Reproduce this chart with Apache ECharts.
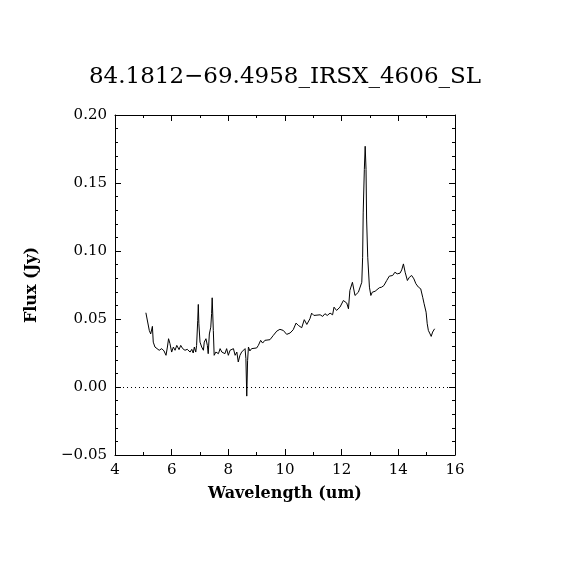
<!DOCTYPE html>
<html>
<head>
<meta charset="utf-8">
<script src="https://cdn.jsdelivr.net/npm/echarts@6/dist/echarts.min.js"></script>
<style>html,body{margin:0;padding:0;background:#fff;}#c{width:570px;height:570px;}</style>
</head>
<body>
<div id="c"></div>
<script>
const titleText = "84.1812\u221269.4958_IRSX_4606_SL";
const xName = "Wavelength (um)";
const yName = "Flux (Jy)";
const wavelength = [
5.09,5.21,5.26,5.32,5.35,5.41,5.47,5.56,5.65,5.73,5.80,5.85,5.89,5.94,6.00,6.06,6.12,6.18,6.26,6.32,
6.39,6.47,6.55,6.65,6.71,6.76,6.80,6.85,6.88,6.92,6.94,6.96,7.00,7.06,7.12,7.15,7.21,7.26,7.29,7.33,
7.38,7.41,7.43,7.47,7.50,7.56,7.65,7.71,7.77,7.82,7.88,7.94,8.00,8.06,8.12,8.18,8.24,8.30,8.35,8.41,
8.47,8.53,8.59,8.62,8.65,8.68,8.71,8.76,8.82,8.88,9.00,9.06,9.14,9.21,9.29,9.47,9.59,9.71,9.82,9.94,
10.06,10.18,10.29,10.39,10.47,10.59,10.68,10.77,10.88,10.94,11.02,11.09,11.24,11.33,11.41,11.49,11.59,11.68,11.73,11.82,
11.94,12.06,12.12,12.18,12.24,12.29,12.38,12.47,12.53,12.59,12.65,12.71,12.74,12.76,12.80,12.83,12.86,12.88,12.92,12.98,
13.03,13.08,13.18,13.24,13.33,13.41,13.49,13.59,13.68,13.80,13.88,13.96,14.06,14.12,14.18,14.24,14.32,14.39,14.47,14.55,
14.62,14.71,14.79,14.86,14.91,14.98,15.02,15.06,15.12,15.16,15.21,15.28
];
const flux = [
0.0546,0.0416,0.039,0.0446,0.033,0.0294,0.0306,0.027,0.0282,0.0265,0.0233,0.0294,0.0355,0.0319,0.0257,0.0294,0.027,0.0306,0.0275,0.0306,
0.0282,0.027,0.0277,0.0257,0.0277,0.025,0.0294,0.0257,0.0306,0.049,0.0607,0.0465,0.033,0.0294,0.027,0.033,0.0355,0.0306,0.0245,0.039,
0.044,0.054,0.0656,0.0416,0.0233,0.0257,0.0245,0.0282,0.0257,0.027,0.0245,0.0282,0.0233,0.027,0.0257,0.0282,0.0233,0.0257,0.0184,0.0233,
0.0257,0.027,0.0282,0.0209,-0.0067,0.0196,0.0294,0.0265,0.0282,0.0275,0.0287,0.0306,0.0343,0.0323,0.0343,0.0348,0.038,0.0411,0.0424,0.0416,
0.0387,0.0397,0.0421,0.047,0.0453,0.0436,0.0495,0.046,0.0502,0.0543,0.0526,0.0514,0.0531,0.0519,0.0539,0.0526,0.0543,0.0531,0.0587,0.0563,
0.0587,0.0636,0.0641,0.0617,0.0575,0.071,0.077,0.0673,0.066,0.0697,0.0685,0.077,0.0954,0.128,0.160,0.177,0.160,0.1235,0.0954,0.0734,
0.0673,0.0697,0.0704,0.0697,0.073,0.0734,0.0746,0.0783,0.0815,0.082,0.0844,0.0832,0.0837,0.0861,0.0905,0.0844,0.0783,0.0807,0.082,0.0795,
0.0759,0.0734,0.0722,0.066,0.0612,0.055,0.0465,0.0416,0.039,0.0372,0.0404,0.0428
];
const xMin = 4, xMax = 16, xStep = 2;
const yMin = -0.05, yMax = 0.20, yStep = 0.05;
const zeroLevel = 0;

const font = "'DejaVu Serif', serif";
const chart = echarts.init(document.getElementById('c'), null, {renderer: 'canvas'});
const axisBase = {
  axisLine: {show: true, onZero: false, lineStyle: {color: '#000', width: 1}},
  splitLine: {show: false},
};
chart.setOption({
  backgroundColor: '#fff',
  animation: false,
  title: {
    text: titleText, left: 'center', top: 61,
    textStyle: {fontFamily: font, fontSize: 23, fontWeight: 'normal', color: '#000'}
  },
  grid: {left: 115, top: 115, width: 340, height: 340, containLabel: false},
  xAxis: [
    Object.assign({}, axisBase, {
      type: 'value', min: xMin, max: xMax, interval: xStep, position: 'bottom',
      name: xName, nameLocation: 'middle', nameGap: 31,
      nameTextStyle: {fontFamily: font, fontSize: 16, fontWeight: 'bold', color: '#000'},
      axisTick: {show: true, inside: true, length: 6, lineStyle: {color: '#000'}},
      minorTick: {show: true, splitNumber: 2, length: 3, lineStyle: {color: '#000'}},
      axisLabel: {fontFamily: font, fontSize: 15, color: '#000', margin: 8}
    }),
    Object.assign({}, axisBase, {
      type: 'value', min: xMin, max: xMax, interval: xStep, position: 'top',
      axisTick: {show: true, inside: true, length: 6, lineStyle: {color: '#000'}},
      minorTick: {show: true, splitNumber: 2, length: 3, lineStyle: {color: '#000'}},
      axisLabel: {show: false}
    })
  ],
  yAxis: [
    Object.assign({}, axisBase, {
      type: 'value', min: yMin, max: yMax, interval: yStep, position: 'left',
      name: yName, nameLocation: 'middle', nameGap: 75, nameRotate: 90,
      nameTextStyle: {fontFamily: font, fontSize: 16, fontWeight: 'bold', color: '#000'},
      axisTick: {show: true, inside: true, length: 6, lineStyle: {color: '#000'}},
      minorTick: {show: true, splitNumber: 5, length: 3, lineStyle: {color: '#000'}},
      axisLabel: {fontFamily: font, fontSize: 15, color: '#000', margin: 8,
        formatter: v => (v < 0 ? '\u2212' + Math.abs(v).toFixed(2) : v.toFixed(2))}
    }),
    Object.assign({}, axisBase, {
      type: 'value', min: yMin, max: yMax, interval: yStep, position: 'right',
      axisTick: {show: true, inside: true, length: 6, lineStyle: {color: '#000'}},
      minorTick: {show: true, splitNumber: 5, length: 3, lineStyle: {color: '#000'}},
      axisLabel: {show: false}
    })
  ],
  series: [{
    type: 'line',
    xAxisIndex: 0, yAxisIndex: 0,
    data: wavelength.map((w, i) => [w, flux[i]]),
    showSymbol: false,
    lineStyle: {color: '#000', width: 1},
    markLine: {
      silent: true, symbol: ['none', 'none'], label: {show: false},
      lineStyle: {color: '#000', type: [1, 3], width: 1},
      data: [{yAxis: zeroLevel}]
    }
  }]
});
</script>
</body>
</html>
